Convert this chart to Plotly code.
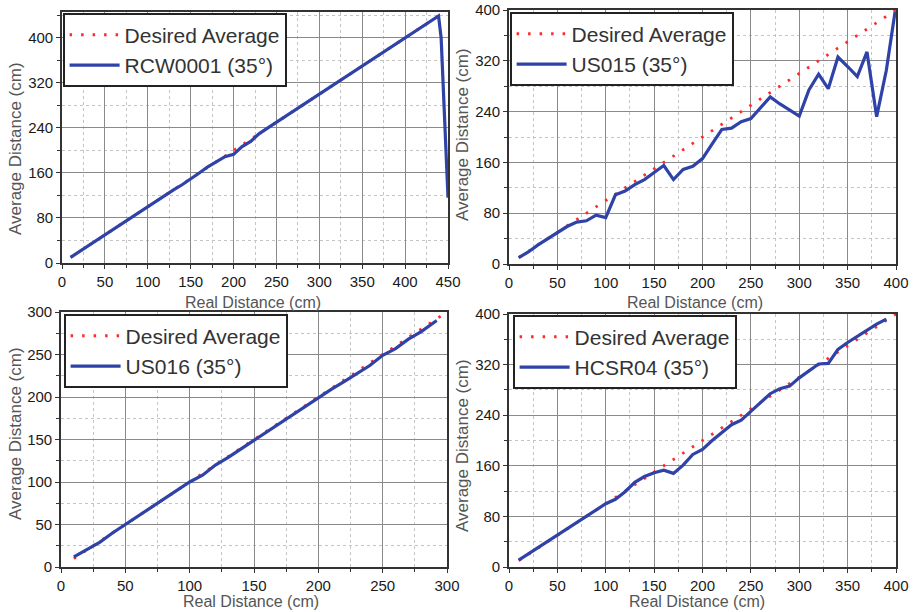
import plotly.graph_objects as go

# ---------------- data ----------------
rcw_x = [10, 20, 30, 40, 50, 60, 70, 80, 90, 100, 110, 120, 130, 140, 150, 160, 170, 180, 190, 200,
         210, 220, 230, 240, 250, 260, 270, 280, 290, 300, 310, 320, 330, 340, 350, 360, 370, 380, 390,
         400, 410, 420, 430, 439, 442, 443, 444.5, 446.5, 448, 449.3, 450]
rcw_y = [10, 20, 31, 40, 50, 60, 70, 81, 90, 100, 110, 120, 130, 139, 149, 160, 171, 180, 189, 193,
         207, 216, 230, 240, 250, 260, 270, 280, 290, 300, 310, 320, 329, 340, 350, 360, 370, 380, 390,
         400, 410, 420, 430, 439, 400, 364, 311, 263, 210, 162, 116]

us015_x = [10, 20, 30, 40, 50, 60, 70, 80, 90, 100, 110, 120, 130, 140, 150, 160, 170, 180, 190, 200,
           210, 220, 230, 240, 250, 260, 270, 280, 290, 300, 310, 320, 330, 340, 350, 360, 370, 380, 390, 399]
us015_y = [10, 19, 30, 40, 49, 59, 66, 68, 77, 73, 109, 115, 125, 133, 144, 155, 133, 149, 154, 166,
           189, 212, 214, 224, 229, 246, 263, 252, 242, 233, 274, 299, 276, 326, 311, 295, 334, 232, 305, 397]

us016_x = [10, 20, 30, 40, 50, 60, 70, 80, 90, 100, 110, 120, 130, 140, 150, 160, 170, 180, 190, 200,
           210, 220, 230, 240, 250, 260, 270, 280, 292]
us016_y = [12, 20, 29, 40, 50, 60, 70, 81, 91, 100, 108, 120, 129, 139, 149, 159, 170, 180, 190, 200,
           209, 218, 227, 237, 249, 257, 268, 277, 290]

hcsr_x = [10, 20, 30, 40, 50, 60, 70, 80, 90, 100, 110, 120, 130, 140, 150, 160, 170, 180, 190, 200,
          210, 220, 230, 240, 250, 260, 270, 280, 290, 300, 310, 320, 330, 340, 350, 360, 370, 380, 390]
hcsr_y = [11, 21, 31, 41, 50, 60, 70, 80, 91, 100, 107, 119, 134, 143, 149, 153, 148, 161, 178, 186,
          200, 213, 225, 232, 246, 260, 274, 282, 286, 299, 310, 321, 322, 344, 355, 365, 375, 384, 392]

desired_1 = [10, 445]
desired_2 = [10, 400]
desired_3 = [10, 300]
desired_4 = [10, 400]

names = ["RCW0001 (35°)", "US015 (35°)", "US016 (35°)", "HCSR04 (35°)"]
x_ranges = [[0, 450], [0, 400], [0, 300], [0, 400]]
y_ranges = [[0, 446], [0, 400], [0, 300], [0, 400]]
x_dticks = [50, 50, 50, 50]
y_dticks = [80, 80, 50, 80]

# ---------------- layout geometry ----------------
W, H = 918, 612
px_dom = [(62, 448, 12, 263), (509, 896, 10, 264), (61, 447, 312, 567), (509, 896, 314, 567)]
legend_pos = [(63, 13), (510, 12), (64, 314), (513, 315)]
xtitle_pos = [(253, 302), (695, 302), (251, 601), (697, 601)]
ytitle_pos = [(15, 149), (462, 135), (15, 434), (462, 446)]

BLUE = "#2f42a8"
RED = "#ff2a2a"
FONT = "Liberation Sans, Arial, sans-serif"

series = [(rcw_x, rcw_y, desired_1), (us015_x, us015_y, desired_2),
          (us016_x, us016_y, desired_3), (hcsr_x, hcsr_y, desired_4)]

fig = go.Figure()
layout = dict(width=W, height=H, margin=dict(l=0, r=0, t=0, b=0, pad=0, autoexpand=False),
              paper_bgcolor="white", plot_bgcolor="white", showlegend=True,
              font=dict(family=FONT))
annotations = []

for i, ((sx, sy, des), name) in enumerate(zip(series, names)):
    k = "" if i == 0 else str(i + 1)
    leg = "legend" if i == 0 else f"legend{i + 1}"
    fig.add_trace(go.Scatter(x=des, y=des, mode="lines", name="Desired Average",
                             xaxis="x" + k, yaxis="y" + k, legend=leg,
                             line=dict(color=RED, width=2.8, dash="2.5px,9px")))
    fig.add_trace(go.Scatter(x=sx, y=sy, mode="lines", name=name,
                             xaxis="x" + k, yaxis="y" + k, legend=leg,
                             line=dict(color=BLUE, width=3.2)))
    x0, x1, y0, y1 = px_dom[i]
    common = dict(showgrid=True, gridcolor="#8a8a8a", gridwidth=1.4,
                  showline=True, linecolor="#333333", linewidth=1.6, mirror=True,
                  ticks="outside", ticklen=4, tickwidth=1.3, tickcolor="#333333",
                  zeroline=False, automargin=False,
                  tickfont=dict(family=FONT, size=15, color="#1a1a1a"))
    layout["xaxis" + k] = dict(common, domain=[x0 / W, x1 / W], range=x_ranges[i],
                               dtick=x_dticks[i], tick0=0, anchor="y" + k,
                               minor=dict(dtick=x_dticks[i] / 2, showgrid=True, gridcolor="#c4c4c4",
                                          griddash="dot", gridwidth=1, ticks="outside", ticklen=3,
                                          tickcolor="#333333"))
    layout["yaxis" + k] = dict(common, domain=[1 - y1 / H, 1 - y0 / H], range=y_ranges[i],
                               dtick=y_dticks[i], tick0=0, anchor="x" + k,
                               minor=dict(dtick=y_dticks[i] / 2, showgrid=True, gridcolor="#c4c4c4",
                                          griddash="dot", gridwidth=1, ticks="outside", ticklen=3,
                                          tickcolor="#333333"))
    lx, ly = legend_pos[i]
    layout[leg] = dict(x=lx / W, y=1 - ly / H, xanchor="left", yanchor="top",
                       xref="paper", yref="paper",
                       bgcolor="white", bordercolor="#222222", borderwidth=1.6,
                       font=dict(family=FONT, size=21, color="#333333"),
                       itemwidth=50, tracegroupgap=0)
    tx, ty = xtitle_pos[i]
    annotations.append(dict(text="Real Distance (cm)", x=tx / W, y=1 - ty / H, xref="paper", yref="paper",
                            showarrow=False, xanchor="center", yanchor="middle",
                            font=dict(family=FONT, size=16, color="#555555")))
    vx, vy = ytitle_pos[i]
    annotations.append(dict(text="Average Distance (cm)", x=vx / W, y=1 - vy / H, xref="paper", yref="paper",
                            showarrow=False, xanchor="center", yanchor="middle", textangle=-90,
                            font=dict(family=FONT, size=17, color="#555555")))

layout["annotations"] = annotations
fig.update_layout(**layout)
fig.write_html("out.html")
